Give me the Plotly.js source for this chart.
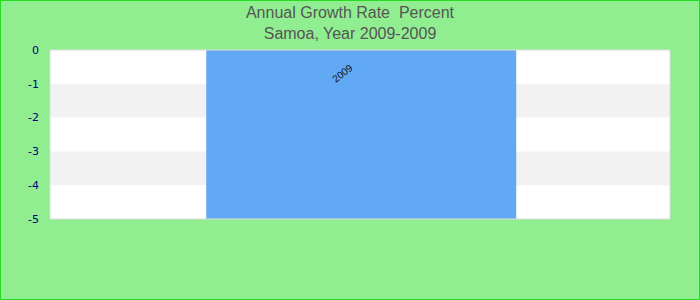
<!DOCTYPE html>
<html><head><meta charset="utf-8">
<script src="https://cdn.plot.ly/plotly-3.0.1.min.js"></script>
<style>
html,body{margin:0;padding:0;background:#90EE90;}
#wrap{width:698px;height:298px;border:1px solid #22dd22;}
#chart{width:698px;height:298px;}
</style></head>
<body><div id="wrap"><div id="chart"></div></div>
<script>
const categories = ['2009'];
const values = [-5];
const barLabels = ['2009'];
const yTicks = [0, -1, -2, -3, -4, -5];
const bands = [[-1, -2], [-3, -4]];

const shapes = bands.map(b => ({
  type: 'rect', xref: 'paper', yref: 'y', x0: 0, x1: 1, y0: b[0], y1: b[1],
  fillcolor: '#f2f2f2', line: {width: 0}, layer: 'below'
}));
shapes.push({type: 'rect', xref: 'paper', yref: 'paper', x0: 0, x1: 1, y0: 0, y1: 1,
  line: {color: '#dcdcdc', width: 1}, fillcolor: 'rgba(0,0,0,0)', layer: 'above'});

const annotations = categories.map((c, i) => ({
  x: i, y: 0, xref: 'x', yref: 'y', text: barLabels[i], showarrow: false,
  textangle: -38, xshift: -18, yshift: -23,
  font: {color: '#111', size: 10, family: 'Liberation Sans, Arial'}
}));

Plotly.newPlot('chart', [{
  type: 'bar', x: categories, y: values, width: 0.5, offset: -0.248,
  marker: {color: '#62a9f5'}, hoverinfo: 'none'
}], {
  width: 698, height: 298,
  margin: {l: 49, r: 29, t: 49, b: 80},
  paper_bgcolor: '#90EE90', plot_bgcolor: '#ffffff',
  title: {text: 'Annual Growth Rate  Percent<br>Samoa, Year 2009-2009', x: 0.5, xanchor: 'center',
    yref: 'container', y: 0.942, yanchor: 'middle',
    font: {family: 'Liberation Sans, Arial', size: 16, color: '#555555'}},
  xaxis: {type: 'category', showticklabels: false, showgrid: false, zeroline: false, range: [-0.5, 0.5], fixedrange: true},
  yaxis: {range: [-5, 0], tickvals: yTicks, ticktext: yTicks.map(String), showgrid: false, zeroline: false,
    ticks: '', ticklabelstandoff: 10,
    tickfont: {family: 'DejaVu Sans', size: 11, color: '#000080'}},
  shapes: shapes,
  annotations: annotations,
  showlegend: false
}, {displayModeBar: false, staticPlot: true});
</script></body></html>
